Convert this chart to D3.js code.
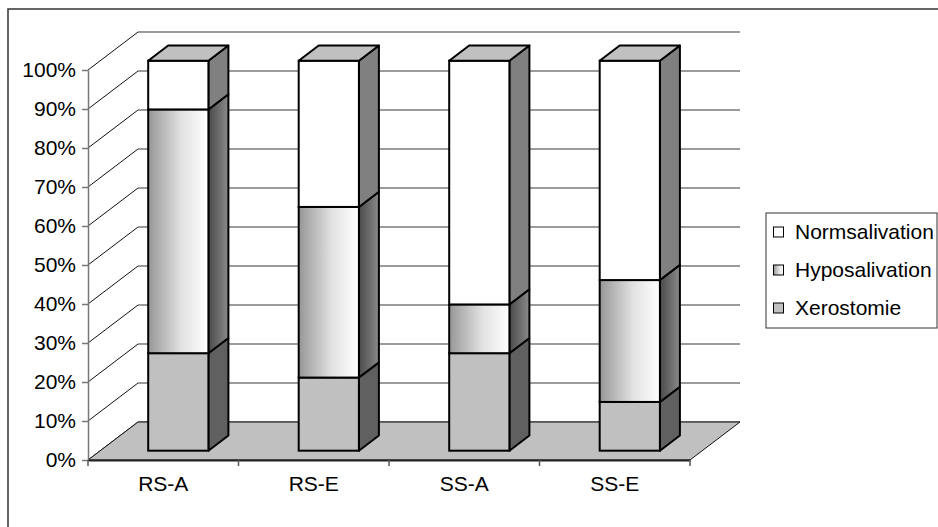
<!DOCTYPE html>
<html>
<head>
<meta charset="utf-8">
<script src="https://cdn.jsdelivr.net/npm/d3@7"></script>
<style>
  html, body { margin: 0; padding: 0; background: #fff; }
  svg { display: block; font-family: "Liberation Sans", Arial, sans-serif; }
</style>
</head>
<body>
<svg id="chart" width="938" height="527"></svg>
<script>
// Groups and their shares (%) per salivation class
const categories = ["RS-A", "RS-E", "SS-A", "SS-E"];
const xerostomie = [25, 18.75, 25, 12.5];
const hyposalivation = [62.5, 43.75, 12.5, 31.25];
const normsalivation = [12.5, 37.5, 62.5, 56.25];
const yTicks = [0, 10, 20, 30, 40, 50, 60, 70, 80, 90, 100];
const seriesNames = ["Normsalivation", "Hyposalivation", "Xerostomie"];

const svg = d3.select("#chart");
const W = 938, H = 527;
const FONT = 21;

// Plot geometry (front plane) and the 3D depth vector
const x0 = 88, x1 = 690, yBase = 460, yTop = 70;
const depth = { dx: 50, dy: -38 };
const barDepthStart = 0.245, barDepthSize = 0.4;

const x = d3.scaleBand().domain(categories).range([x0, x1]).padding(0);
const y = d3.scaleLinear().domain([0, 100]).range([yBase, yTop]);

// Gradients
const defs = svg.append("defs");
const gFront = defs.append("linearGradient").attr("id", "hypoFront")
  .attr("x1", "0%").attr("x2", "100%").attr("y1", "0%").attr("y2", "0%");
gFront.append("stop").attr("offset", "0%").attr("stop-color", "#969696");
gFront.append("stop").attr("offset", "55%").attr("stop-color", "#e2e2e2");
gFront.append("stop").attr("offset", "100%").attr("stop-color", "#ffffff");
const gSide = defs.append("linearGradient").attr("id", "hypoSide")
  .attr("x1", "0%").attr("x2", "100%").attr("y1", "0%").attr("y2", "0%");
gSide.append("stop").attr("offset", "0%").attr("stop-color", "#4a4a4a");
gSide.append("stop").attr("offset", "100%").attr("stop-color", "#8a8a8a");

// Outer frame
svg.append("rect").attr("x", 8).attr("y", 9).attr("width", W).attr("height", H)
  .attr("fill", "#fff").attr("stroke", "#333").attr("stroke-width", 1.5);

// Back-wall gridlines and left-wall diagonals
const grid = svg.append("g");
yTicks.forEach(t => {
  const yy = y(t);
  grid.append("line")
    .attr("x1", x0 + depth.dx).attr("x2", x1 + depth.dx)
    .attr("y1", yy + depth.dy).attr("y2", yy + depth.dy)
    .attr("stroke", "#7a7a7a").attr("stroke-width", 1.5);
  grid.append("line")
    .attr("x1", x0).attr("y1", yy)
    .attr("x2", x0 + depth.dx).attr("y2", yy + depth.dy)
    .attr("stroke", "#111").attr("stroke-width", 1);
});

// Floor
const floorPts = [[x0, yBase], [x1, yBase], [x1 + depth.dx, yBase + depth.dy], [x0 + depth.dx, yBase + depth.dy]];
svg.append("polygon").attr("points", floorPts.map(p => p.join(",")).join(" "))
  .attr("fill", "#c0c0c0").attr("stroke", "#111").attr("stroke-width", 1);

// Y axis
const yAxis = svg.append("g").attr("transform", `translate(${x0},0)`)
  .call(d3.axisLeft(y).tickValues(yTicks).tickFormat(d => d + "%").tickSize(6).tickSizeOuter(0));
yAxis.select(".domain").attr("stroke", "#777").attr("stroke-width", 1.5);
yAxis.selectAll(".tick line").attr("stroke", "#777").attr("stroke-width", 1.5);
yAxis.selectAll(".tick text").attr("font-size", FONT).attr("fill", "#000")
  .attr("font-family", "Liberation Sans, Arial, sans-serif").attr("x", -12);

// X axis: labels at band centers, ticks at band edges
const xAxis = svg.append("g").attr("transform", `translate(0,${yBase})`)
  .call(d3.axisBottom(x).tickSize(0).tickPadding(16));
xAxis.select(".domain").attr("stroke", "#222").attr("stroke-width", 2);
xAxis.selectAll(".tick text").attr("font-size", FONT).attr("fill", "#000")
  .attr("font-family", "Liberation Sans, Arial, sans-serif");
const edges = categories.map(c => x(c)).concat([x1]);
xAxis.selectAll("line.edge").data(edges).join("line").attr("class", "edge")
  .attr("x1", d => d).attr("x2", d => d).attr("y1", 0).attr("y2", 6)
  .attr("stroke", "#555").attr("stroke-width", 1.5);

// Bars
const stacks = categories.map((c, i) => {
  const vals = [
    { key: "Xerostomie", v: xerostomie[i], front: "#c0c0c0", side: "#606060" },
    { key: "Hyposalivation", v: hyposalivation[i], front: "url(#hypoFront)", side: "url(#hypoSide)" },
    { key: "Normsalivation", v: normsalivation[i], front: "#ffffff", side: "#808080" }
  ];
  let acc = 0;
  vals.forEach(s => { s.lo = acc; acc += s.v; s.hi = acc; });
  return { c, vals };
});

const oy = depth.dy * barDepthStart;
const bdx = depth.dx * barDepthSize, bdy = depth.dy * barDepthSize;
const bw = x.bandwidth() * 0.4;

const bars = svg.append("g");
stacks.forEach(st => {
  const bx = x(st.c) + x.bandwidth() * 0.4;
  const g = bars.append("g");
  st.vals.forEach(s => {
    const yl = y(s.lo) + oy, yh = y(s.hi) + oy;
    // side face
    g.append("polygon")
      .attr("points", [[bx + bw, yl], [bx + bw + bdx, yl + bdy], [bx + bw + bdx, yh + bdy], [bx + bw, yh]].map(p => p.join(",")).join(" "))
      .attr("fill", s.side).attr("stroke", "#000").attr("stroke-width", 2).attr("stroke-linejoin", "round");
    // front face
    g.append("rect").attr("x", bx).attr("y", yh).attr("width", bw).attr("height", yl - yh)
      .attr("fill", s.front).attr("stroke", "#000").attr("stroke-width", 2);
  });
  const top = st.vals[st.vals.length - 1];
  const yt = y(top.hi) + oy;
  g.append("polygon")
    .attr("points", [[bx, yt], [bx + bw, yt], [bx + bw + bdx, yt + bdy], [bx + bdx, yt + bdy]].map(p => p.join(",")).join(" "))
    .attr("fill", "#c0c0c0").attr("stroke", "#000").attr("stroke-width", 2).attr("stroke-linejoin", "round");
});

// Legend
const legend = svg.append("g");
legend.append("rect").attr("x", 766).attr("y", 213).attr("width", 171).attr("height", 115)
  .attr("fill", "#fff").attr("stroke", "#333").attr("stroke-width", 1);
const legendFill = { Normsalivation: "#ffffff", Hyposalivation: "url(#hypoFront)", Xerostomie: "#c0c0c0" };
const legendY = d3.scalePoint().domain(seriesNames).range([232, 308]);
seriesNames.forEach(n => {
  const cy = legendY(n);
  legend.append("rect").attr("x", 773.5).attr("y", cy - 5).attr("width", 10).attr("height", 10)
    .attr("fill", legendFill[n]).attr("stroke", "#000").attr("stroke-width", 1);
  legend.append("text").attr("x", 795).attr("y", cy).attr("dy", "0.35em")
    .attr("font-size", FONT).attr("fill", "#000").text(n);
});
</script>
</body>
</html>
